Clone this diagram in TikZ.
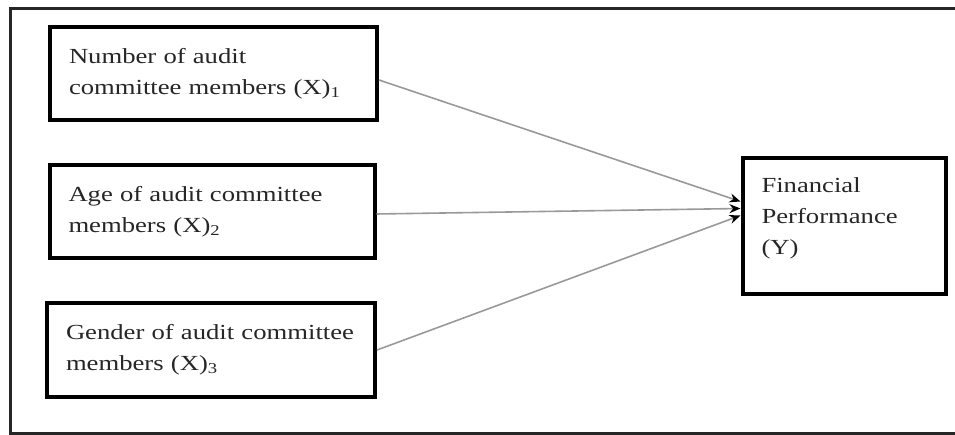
\documentclass[tikz,border=0pt]{standalone}
\usepackage{fontspec}
\setmainfont[FakeStretch=1.24]{Liberation Serif}
\usetikzlibrary{arrows.meta}
\begin{document}
\begin{tikzpicture}[x=1pt,y=-1pt,
  varbox/.style={draw=black, line width=4pt, rectangle, inner xsep=19pt, inner ysep=0pt,
    align=left, font=\fontsize{21.5}{31}\selectfont, text=black!85},
  link/.style={draw=black!40, line width=1.6pt, -{Stealth[length=11pt,width=9pt,black]}}]
\useasboundingbox (0,0) rectangle (955,435);
\draw[line width=3pt, black!85] (958,9) -- (10,9) -- (10,433) -- (958,433);
\node[varbox, minimum width=327pt, minimum height=93pt, text width=289pt] (b1) at (213.5,73.5)
  {Number of audit\\committee members (X)\textsubscript{1}};
\node[varbox, minimum width=325pt, minimum height=93pt, text width=287pt] (b2) at (212,211.5)
  {Age of audit committee\\members (X)\textsubscript{2}};
\node[varbox, minimum width=328pt, minimum height=93pt, text width=290pt] (b3) at (211,350)
  {Gender of audit committee\\members (X)\textsubscript{3}};
\node[varbox, minimum width=203pt, minimum height=136pt, text width=165pt] (y) at (844,226.5)
  {Financial\\Performance\\(Y)\par\vspace{16pt}};
\draw[link] ([yshift=-6.5pt]b1.east) -- ([yshift=25pt]y.west);
\draw[link] ([yshift=-2.5pt]b2.east) -- ([yshift=18pt]y.west);
\draw[link] (b3.east) -- ([yshift=11pt]y.west);
\end{tikzpicture}
\end{document}
